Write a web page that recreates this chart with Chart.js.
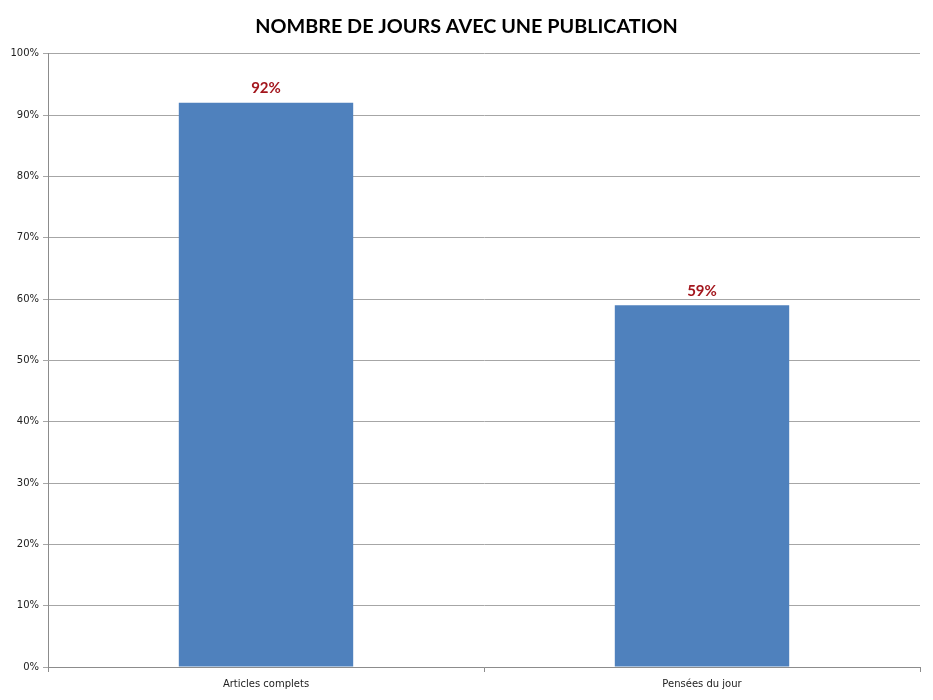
<!DOCTYPE html>
<html>
<head>
<meta charset="utf-8">
<script src="https://cdn.jsdelivr.net/npm/chart.js@4/dist/chart.umd.min.js"></script>
<style>
html,body{margin:0;padding:0;background:#fff;}
#wrap{width:933px;height:700px;position:relative;}
</style>
</head>
<body>
<div id="wrap"><canvas id="c" width="933" height="700"></canvas></div>
<script>
const categories = ["Articles complets", "Pensées du jour"];
const values = [92, 59];
const yTicks = [0, 10, 20, 30, 40, 50, 60, 70, 80, 90, 100];
const titleText = "NOMBRE DE JOURS AVEC UNE PUBLICATION";

const labelPlugin = {
  id: 'barLabels',
  afterDatasetsDraw(chart) {
    const ctx = chart.ctx;
    const meta = chart.getDatasetMeta(0);
    ctx.save();
    ctx.font = 'bold 15px Lato, "Open Sans", sans-serif';
    ctx.fillStyle = '#a3161d';
    ctx.textAlign = 'center';
    ctx.textBaseline = 'bottom';
    meta.data.forEach((bar, i) => {
      ctx.fillText(values[i] + '%', bar.x, bar.y - 7);
    });
    ctx.restore();
  }
};

new Chart(document.getElementById('c'), {
  type: 'bar',
  data: {
    labels: categories,
    datasets: [{
      data: values,
      backgroundColor: '#4f81bd',
      borderWidth: 0,
      barPercentage: 0.4,
      categoryPercentage: 1.0
    }]
  },
  options: {
    responsive: false,
    animation: false,
    devicePixelRatio: 1,
    layout: { padding: { left: 0, right: 0, top: 0, bottom: 0 } },
    plugins: {
      legend: { display: false },
      tooltip: { enabled: false },
      title: {
        display: true,
        text: titleText,
        color: '#000',
        font: { family: 'Lato, "Open Sans", sans-serif', size: 19.8, weight: 'bold' },
        padding: { top: 15, bottom: 15 }
      }
    },
    scales: {
      y: {
        min: 0, max: 100,
        afterBuildTicks(axis) { axis.ticks = yTicks.map(v => ({ value: v })); },
        afterFit(axis) { axis.width = 48; },
        ticks: {
          callback: v => v + '%',
          color: '#222',
          font: { family: '"DejaVu Sans", sans-serif', size: 10 },
          padding: 4
        },
        grid: { color: '#a6a6a6', lineWidth: 1, tickLength: 5 },
        border: { color: '#8c8c8c', width: 1 }
      },
      yRight: {
        position: 'right',
        min: 0, max: 100,
        afterFit(axis) { axis.width = 13; },
        ticks: { display: false },
        grid: { display: false },
        border: { display: false }
      },
      x: {
        afterFit(axis) { axis.height = 33; },
        ticks: {
          color: '#222',
          font: { family: '"DejaVu Sans", sans-serif', size: 10 },
          padding: 6
        },
        grid: { drawOnChartArea: false, offset: true, color: '#8c8c8c', tickLength: 5 },
        border: { color: '#8c8c8c', width: 1 }
      }
    }
  },
  plugins: [labelPlugin]
});
</script>
</body>
</html>
